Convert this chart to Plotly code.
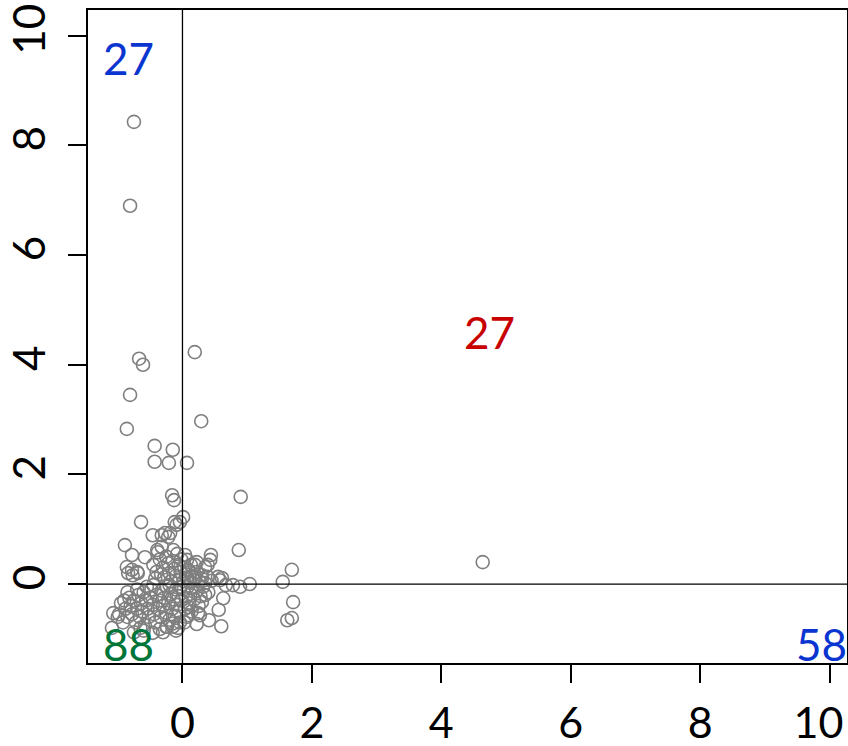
import plotly.graph_objects as go

# Sparse / outlying points
x_sparse = [-0.75, -0.81, -0.67, -0.61, 0.19, -0.81, 0.29, -0.86, -0.43, -0.15,
            -0.43, -0.21, 0.07, 0.90, -0.16, -0.13, 0.01, -0.04, -0.12, -0.09,
            -0.64, 0.87, 4.64, 1.69, 1.55, 1.71, 1.62, 1.69, 1.04, 0.89,
            0.78, 0.61, 0.58, 0.63, 0.56, 0.60, 0.41, 0.24, 0.27, 0.22,
            0.30, 0.35, 0.44, 0.43, 0.39, 0.22, 0.19, 0.35, 0.04, 0.07,
            -0.46, -0.32, -0.27, -0.19, -0.22, -0.89, -0.78, -0.58, -0.39, -0.32,
            -0.38, -0.86, -0.78, -0.70, -0.84, -0.77, -0.69, -1.07, -1.00, -1.09,
            -0.46, -0.30, -0.15, -0.24, 0.09, 0.09, -0.07, 0.19, 0.30, 0.39,
            0.55, 0.67]
y_sparse = [8.43, 6.90, 4.11, 4.00, 4.23, 3.45, 2.97, 2.83, 2.52, 2.45,
            2.23, 2.21, 2.21, 1.59, 1.62, 1.53, 1.22, 1.13, 1.13, 1.08,
            1.13, 0.62, 0.40, 0.26, 0.04, -0.33, -0.66, -0.62, 0.00, -0.05,
            -0.02, 0.11, 0.07, -0.26, -0.47, -0.77, -0.66, -0.53, -0.57, -0.73,
            -0.33, -0.20, 0.53, 0.44, 0.35, 0.40, 0.35, 0.31, 0.53, 0.44,
            0.89, 0.89, 0.93, 0.93, 0.86, 0.71, 0.53, 0.49, 0.62, 0.68,
            0.58, 0.31, 0.26, 0.22, 0.20, 0.16, 0.20, -0.53, -0.60, -0.80,
            -0.89, -0.88, -0.78, -0.78, -0.42, -0.57, -0.80, 0.13, 0.16, 0.13,
            0.13, -0.02]

# Dense cluster around the origin (estimated)
x_dense = [-0.45, -0.40, -0.35, -0.30, -0.28, -0.25, -0.22, -0.20, -0.18, -0.15,
           -0.12, -0.10, -0.08, -0.06, -0.05, -0.03, -0.02, -0.33, -0.42, -0.14,
           0.02, 0.05, 0.08, 0.10, 0.12, 0.15, 0.18, 0.22, 0.26, 0.30,
           0.35, 0.03, 0.06, 0.13, 0.45,
           -0.95, -0.90, -0.88, -0.85, -0.82, -0.80, -0.78, -0.75, -0.72, -0.70,
           -0.68, -0.66, -0.64, -0.62, -0.60, -0.58, -0.56, -0.54, -0.52, -0.50,
           -0.48, -0.46, -0.44, -0.42, -0.40, -0.38, -0.36, -0.34, -0.32, -0.30,
           -0.28, -0.26, -0.24, -0.22, -0.20, -0.18, -0.16, -0.14, -0.12, -0.10,
           -0.08, -0.06, -0.05, -0.04, -0.03, -0.02, -0.15, -0.25, -0.35, -0.60,
           -0.92, -0.98, -0.70, -0.55, -0.45, -0.85, -0.10, -0.20, -0.65, -0.75,
           0.02, 0.05, 0.08, 0.10, 0.12, 0.15, 0.18, 0.22, 0.25, 0.28,
           0.32, 0.04, 0.07, 0.14, 0.40, 0.03]
y_dense = [0.35, 0.22, 0.45, 0.30, 0.12, 0.50, 0.38, 0.20, 0.05, 0.42,
           0.28, 0.15, 0.55, 0.35, 0.08, 0.22, 0.45, 0.18, 0.10, 0.62,
           0.05, 0.18, 0.10, 0.25, 0.02, 0.15, 0.08, 0.22, 0.05, 0.10,
           0.02, 0.30, 0.12, 0.35, 0.06,
           -0.35, -0.30, -0.45, -0.60, -0.25, -0.40, -0.55, -0.30, -0.70, -0.45,
           -0.20, -0.60, -0.35, -0.50, -0.15, -0.75, -0.30, -0.45, -0.60, -0.25,
           -0.10, -0.38, -0.55, -0.70, -0.20, -0.45, -0.30, -0.60, -0.12, -0.40,
           -0.25, -0.52, -0.05, -0.35, -0.65, -0.18, -0.45, -0.28, -0.58, -0.10,
           -0.38, -0.22, -0.50, -0.70, -0.05, -0.30, -0.72, -0.78, -0.82, -0.85,
           -0.70, -0.55, -0.10, -0.05, -0.02, -0.15, -0.85, -0.02, -0.80, -0.88,
           -0.10, -0.25, -0.05, -0.35, -0.18, -0.08, -0.28, -0.12, -0.40, -0.22,
           -0.05, -0.45, -0.60, -0.50, -0.15, -0.70]

tick_vals = [0, 2, 4, 6, 8, 10]
tick_text = ["0", "2", "4", "6", "8", "10"]

quad_labels = ["27", "27", "88", "58"]
quad_x = [-0.84, 4.75, -0.84, 9.88]
quad_y = [9.6, 4.6, -1.09, -1.09]
quad_colors = ["#0a35d0", "#c80000", "#00753a", "#0a35d0"]

FONT = "Lato, 'Open Sans', sans-serif"

fig = go.Figure()
fig.add_trace(go.Scatter(
    x=x_sparse + x_dense, y=y_sparse + y_dense, mode="markers",
    marker=dict(symbol="circle-open", size=13, color="#7f7f7f",
                line=dict(width=1.6, color="#7f7f7f")),
    showlegend=False, hoverinfo="skip"))

fig.add_hline(y=0, line=dict(color="black", width=1.3), layer="above")
fig.add_vline(x=0, line=dict(color="black", width=1.3), layer="above")

for t, xx, yy, c in zip(quad_labels, quad_x, quad_y, quad_colors):
    fig.add_annotation(x=xx, y=yy, text=t, showarrow=False,
                       font=dict(family=FONT, size=44, color=c))

# the last x tick label is padded so that it stays inside the window
x_tick_text = tick_text[:-1] + [tick_text[-1] + "\u00a0\u00a0"]

fig.update_layout(
    width=848, height=746,
    margin=dict(l=88, r=1, t=10, b=83, autoexpand=False),
    paper_bgcolor="white", plot_bgcolor="white",
    font=dict(family=FONT, color="black"),
)
fig.update_xaxes(range=[-1.46, 10.27], tickvals=tick_vals, ticktext=x_tick_text,
                 showgrid=False, zeroline=False, showline=True, mirror=True,
                 linecolor="black", linewidth=1.6, ticks="outside", ticklen=18,
                 tickcolor="black", tickwidth=1.6, tickfont=dict(size=43),
                 ticklabelstandoff=4, automargin=False, ticklabeloverflow="allow")
fig.update_yaxes(range=[-1.44, 10.47], tickvals=tick_vals, ticktext=tick_text,
                 showgrid=False, zeroline=False, showline=True, mirror=True,
                 linecolor="black", linewidth=1.6, ticks="outside", ticklen=18,
                 tickcolor="black", tickwidth=1.6, tickfont=dict(size=44),
                 tickangle=-90, ticklabelstandoff=6, automargin=False,
                 ticklabeloverflow="allow")

# remove the default page margin so the figure fills the 848x746 window exactly
fig.write_html("out.html", config={"displayModeBar": False},
               post_script="document.body.style.margin='0';"
                           "document.body.style.overflow='hidden';")
